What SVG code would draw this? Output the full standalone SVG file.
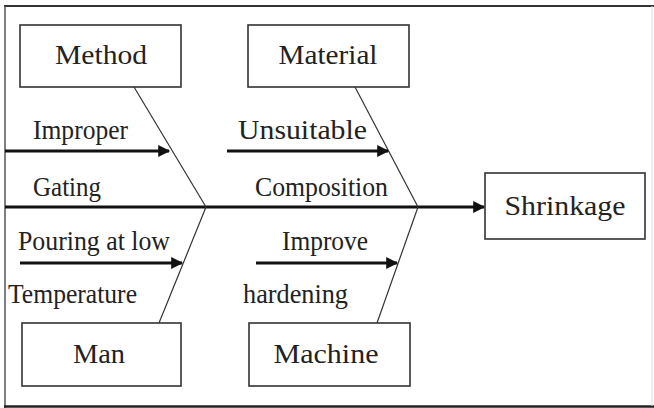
<svg xmlns="http://www.w3.org/2000/svg" width="654" height="408" viewBox="0 0 654 408">
<style>
.box{fill:#fff;stroke:#333;stroke-width:1.6}
.t{font-family:"Liberation Serif","Times New Roman",serif;font-size:27px;fill:#222}
.c{text-anchor:middle}
.thick{stroke:#111;stroke-width:3;fill:none}
.thin{stroke:#333;stroke-width:1.2;fill:none}
</style>
<defs>
<marker id="ah" viewBox="0 0 10 10" refX="9" refY="5" markerWidth="4.5" markerHeight="4" orient="auto" markerUnits="strokeWidth">
<path d="M0,0 L10,5 L0,10 z" fill="#111"/>
</marker>
</defs>
<rect x="0" y="0" width="654" height="408" fill="#fff"/>
<g id="frame" fill="none">
<line x1="4" y1="6" x2="654" y2="6" stroke="#333" stroke-width="2"/>
<line x1="5" y1="6" x2="5" y2="408" stroke="#555" stroke-width="1.5"/>
<line x1="4" y1="406.5" x2="654" y2="406.5" stroke="#222" stroke-width="2.5"/>
<line x1="652" y1="6" x2="652" y2="406" stroke="#ddd" stroke-width="1"/>
</g>
<g id="connectors">
<line class="thick" x1="5" y1="207" x2="484" y2="207" marker-end="url(#ah)"/>
<line class="thin" x1="134" y1="87" x2="206" y2="207"/>
<line class="thin" x1="206" y1="207" x2="159" y2="323"/>
<line class="thin" x1="355" y1="87" x2="418" y2="207"/>
<line class="thin" x1="418" y1="207" x2="377" y2="323"/>
<line class="thick" x1="5" y1="151" x2="169" y2="151" marker-end="url(#ah)"/>
<line class="thick" x1="227" y1="151" x2="388" y2="151" marker-end="url(#ah)"/>
<line class="thick" x1="20" y1="263" x2="182" y2="263" marker-end="url(#ah)"/>
<line class="thick" x1="256" y1="263" x2="397" y2="263" marker-end="url(#ah)"/>
</g>
<g id="method"><rect class="box" x="20" y="25" width="161" height="62"/><text class="t c" x="101" y="64" textLength="92" lengthAdjust="spacingAndGlyphs">Method</text></g>
<g id="material"><rect class="box" x="248" y="25" width="161" height="62"/><text class="t c" x="328" y="64" textLength="99" lengthAdjust="spacingAndGlyphs">Material</text></g>
<g id="man"><rect class="box" x="22" y="323" width="159" height="63"/><text class="t c" x="99" y="363" textLength="52" lengthAdjust="spacingAndGlyphs">Man</text></g>
<g id="machine"><rect class="box" x="249" y="323" width="161" height="63"/><text class="t c" x="326" y="363" textLength="105" lengthAdjust="spacingAndGlyphs">Machine</text></g>
<g id="shrinkage"><rect class="box" x="485" y="173" width="160" height="66"/><text class="t c" x="565" y="215" textLength="121" lengthAdjust="spacingAndGlyphs">Shrinkage</text></g>
<g id="labels">
<text class="t" x="33" y="139" textLength="95" lengthAdjust="spacingAndGlyphs">Improper</text>
<text class="t" x="33" y="196" textLength="68" lengthAdjust="spacingAndGlyphs">Gating</text>
<text class="t" x="238" y="139" textLength="129" lengthAdjust="spacingAndGlyphs">Unsuitable</text>
<text class="t" x="255" y="196" textLength="133" lengthAdjust="spacingAndGlyphs">Composition</text>
<text class="t" x="18" y="250" textLength="152" lengthAdjust="spacingAndGlyphs">Pouring at low</text>
<text class="t" x="8" y="303" textLength="129" lengthAdjust="spacingAndGlyphs">Temperature</text>
<text class="t" x="282" y="250" textLength="86" lengthAdjust="spacingAndGlyphs">Improve</text>
<text class="t" x="243" y="303" textLength="105" lengthAdjust="spacingAndGlyphs">hardening</text>
</g>
</svg>
